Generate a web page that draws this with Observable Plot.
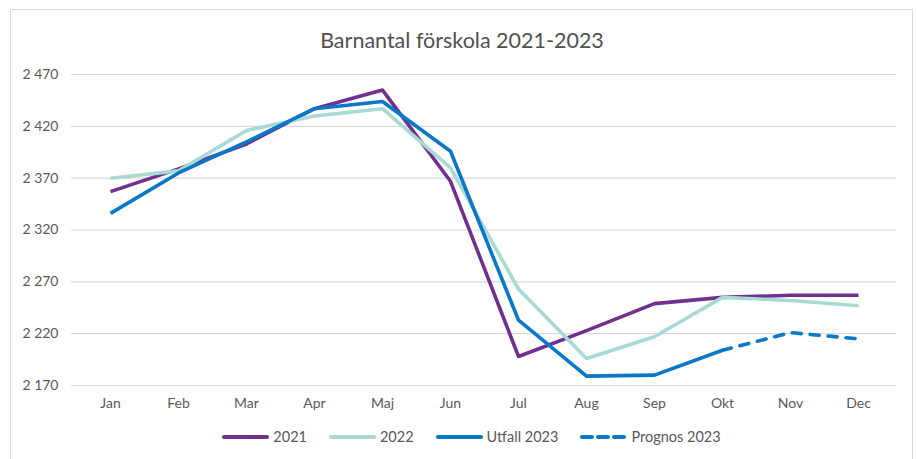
<!DOCTYPE html>
<html>
<head>
<meta charset="utf-8">
<script src="https://cdn.jsdelivr.net/npm/d3@7"></script>
<script src="https://cdn.jsdelivr.net/npm/@observablehq/plot@0.6"></script>
<style>
  html, body { margin: 0; padding: 0; background: #fff; overflow: hidden; }
  #wrap { position: relative; width: 917px; height: 459px; overflow: hidden; font-family: Lato, "Open Sans", sans-serif; }
  #frame { position: absolute; left: 10px; top: 9px; width: 903px; height: 470px; border: 1.5px solid #D9D9D9; box-sizing: border-box; }
  #title { position: absolute; left: 10px; width: 904px; top: 26px; text-align: center; font-size: 21.5px; color: #505050; line-height: 28px; }
  #chart { position: absolute; left: 0; top: 0; }
  #legend { position: absolute; left: 13px; width: 917px; top: 428px; display: flex; justify-content: center; align-items: center; font-size: 14.5px; color: #595959; }
  .item { display: flex; align-items: center; margin: 0 11px; }
  .item svg { margin-right: 4px; }
</style>
</head>
<body>
<div id="wrap">
  <div id="frame"></div>
  <div id="chart"></div>
  <div id="title">Barnantal förskola 2021-2023</div>
  <div id="legend"></div>
</div>
<script>
const months = ["Jan","Feb","Mar","Apr","Maj","Jun","Jul","Aug","Sep","Okt","Nov","Dec"];
const values2021 = [2357,2379,2403,2437,2455,2367,2198,2223,2249,2255,2257,2257];
const values2022 = [2370,2377,2416,2430,2437,2380,2263,2196,2217,2255,2252,2247];
const utfallMonths = ["Jan","Feb","Mar","Apr","Maj","Jun","Jul","Aug","Sep","Okt"];
const utfall2023 = [2336,2375,2405,2437,2444,2396,2233,2179,2180,2204];
const prognosMonths = ["Okt","Nov","Dec"];
const prognos2023 = [2204,2221,2215];
const yTicks = [2170,2220,2270,2320,2370,2420,2470];

const seriesNames = ["2021","2022","Utfall 2023","Prognos 2023"];
const seriesColors = ["#712F8E","#A7DAD5","#0A78C8","#0A78C8"];
const seriesDash = [null,null,null,"9,9"];

const toRows = (ms, vs, s) => ms.map((m,i) => ({month: m, value: vs[i], series: s}));
const d2021 = toRows(months, values2021, "2021");
const d2022 = toRows(months, values2022, "2022");
const dUtfall = toRows(utfallMonths, utfall2023, "Utfall 2023");
const dPrognos = toRows(prognosMonths, prognos2023, "Prognos 2023");

const fmt = d3.formatLocale({thousands: " ", grouping: [3], decimal: ","}).format(",");

const lineOpts = (i) => ({x: "month", y: "value", stroke: seriesColors[i], strokeWidth: 3.6, strokeLinejoin: "round", strokeLinecap: i===3 ? "round" : "butt", strokeDasharray: seriesDash[i] || undefined});

const plot = Plot.plot({
  width: 917,
  height: 420,
  marginLeft: 71,
  marginRight: 21,
  marginTop: 74,
  marginBottom: 35,
  style: {fontFamily: "Lato, 'Open Sans', sans-serif", background: "transparent"},
  x: {type: "point", domain: months, padding: 0.5},
  y: {domain: [2170, 2470]},
  marks: [
    Plot.gridY(yTicks, {stroke: "#D9D9D9", strokeOpacity: 1, strokeWidth: 1.2}),
    Plot.axisY(yTicks, {tickSize: 0, tickPadding: 13, fontSize: 14, fill: "#595959", tickFormat: fmt, label: null}),
    Plot.axisX({tickSize: 0, tickPadding: 13, fontSize: 14, fill: "#595959", label: null}),
    Plot.line(d2021, lineOpts(0)),
    Plot.line(d2022, lineOpts(1)),
    Plot.line(dUtfall, lineOpts(2)),
    Plot.line(dPrognos, lineOpts(3))
  ]
});
document.getElementById("chart").appendChild(plot);

const legend = document.getElementById("legend");
seriesNames.forEach((name, i) => {
  const item = document.createElement("div");
  item.className = "item";
  const dash = seriesDash[i] ? `stroke-dasharray="10,6"` : "";
  item.innerHTML = `<svg width="47" height="10"><line x1="2" y1="5" x2="45" y2="5" stroke="${seriesColors[i]}" stroke-width="4" stroke-linecap="round" ${dash}/></svg><span>${name}</span>`;
  legend.appendChild(item);
});
</script>
</body>
</html>
